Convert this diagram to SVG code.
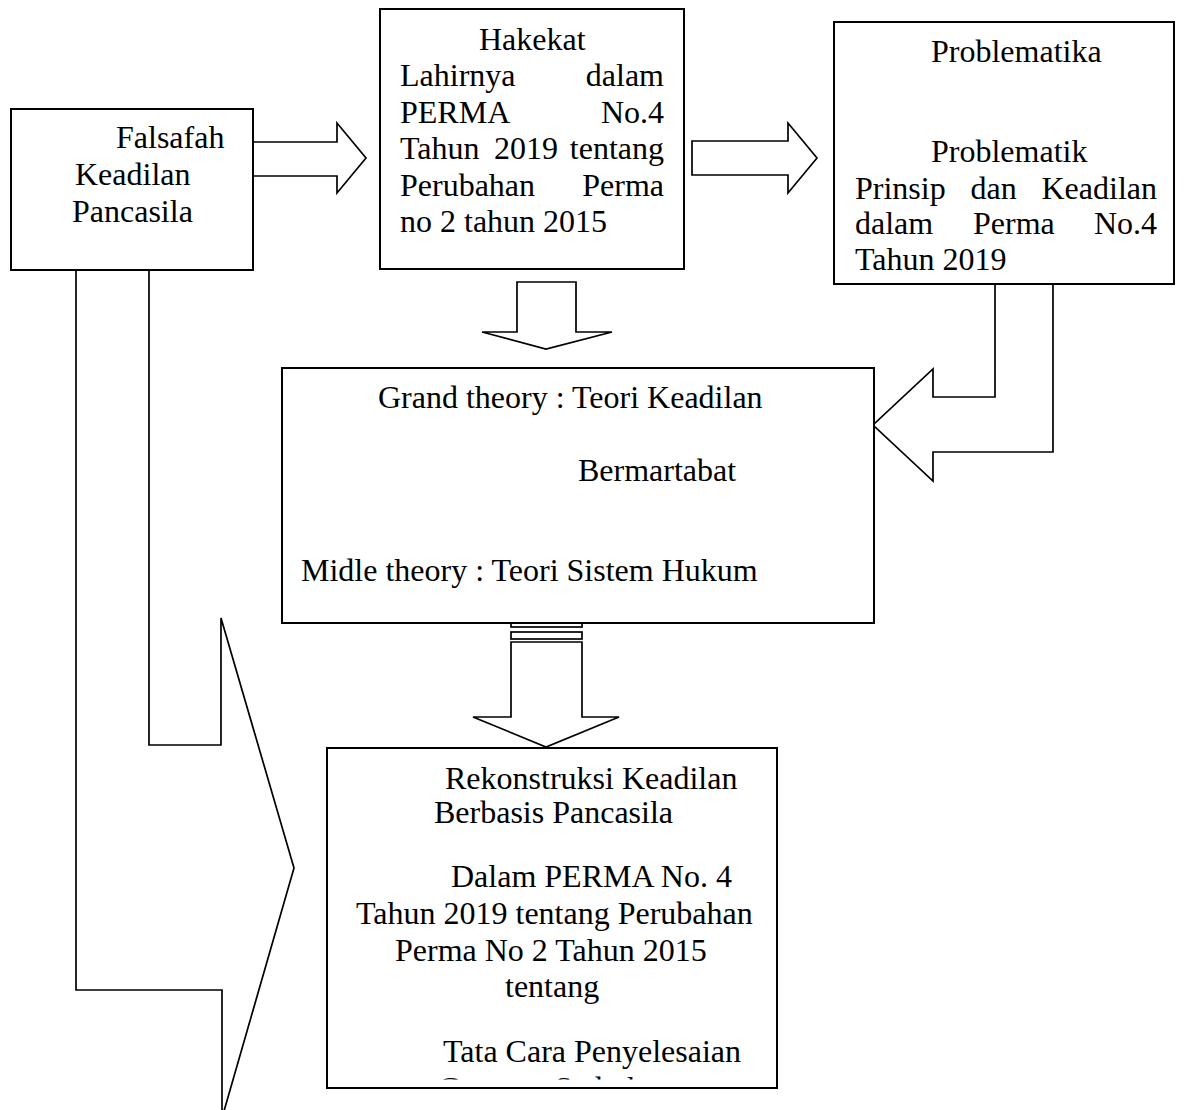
<svg xmlns="http://www.w3.org/2000/svg" width="1192" height="1110" viewBox="0 0 1192 1110">
<style>
.box{fill:#fff;stroke:#000;stroke-width:2}
.arr{fill:#fff;stroke:#000;stroke-width:1.7;stroke-linejoin:miter}
text{font-family:"Liberation Serif","Times New Roman",serif;font-size:32px;fill:#000}
.e{text-anchor:end}
</style>
<defs>
<clipPath id="cut"><rect x="327" y="748" width="450" height="331.5"/></clipPath>
</defs>
<rect width="1192" height="1110" fill="#fff"/>
<g id="connectors">
<polygon class="arr" points="76,270 76,990 222,990 222,1118 294,868 221,618 221,745 149,745 149,270"/>
<polygon class="arr" points="253,142 337,142 337,123 366,158 337,193 337,176 253,176"/>
<polygon class="arr" points="692,141 788,141 788,123 817,158 788,193 788,175 692,175"/>
<polygon class="arr" points="517,282 576,282 576,332 612,332 546,349 482,332 517,332"/>
<polygon class="arr" points="995,284 995,397 933,397 933,369 873,425 933,481 933,452 1053,452 1053,284"/>
<rect class="arr" x="511" y="623" width="71" height="4"/>
<rect class="arr" x="511" y="632" width="71" height="7"/>
<polygon class="arr" points="511,642 582,642 582,717 619,717 546,747 473,717 511,717"/>
</g>
<g id="falsafah">
<rect class="box" x="11" y="109" width="242" height="161"/>
<text x="116" y="148">Falsafah</text>
<text x="75" y="185">Keadilan</text>
<text x="72" y="222">Pancasila</text>
</g>
<g id="hakekat">
<rect class="box" x="380" y="9" width="304" height="260"/>
<text x="479" y="49.5">Hakekat</text>
<text x="400" y="86">Lahirnya</text><text class="e" x="664" y="86">dalam</text>
<text x="400" y="122.5">PERMA</text><text class="e" x="664" y="122.5">No.4</text>
<text x="400" y="159">Tahun</text><text x="494" y="159">2019</text><text class="e" x="664" y="159">tentang</text>
<text x="400" y="195.5">Perubahan</text><text class="e" x="664" y="195.5">Perma</text>
<text x="400" y="232">no 2 tahun 2015</text>
</g>
<g id="problematika">
<rect class="box" x="834" y="22" width="340" height="262"/>
<text x="931" y="62">Problematika</text>
<text x="931" y="162">Problematik</text>
<text x="855" y="198.5">Prinsip</text><text x="970.5" y="198.5">dan</text><text class="e" x="1157" y="198.5">Keadilan</text>
<text x="855" y="234">dalam</text><text x="973" y="234">Perma</text><text class="e" x="1157" y="234">No.4</text>
<text x="855" y="270">Tahun 2019</text>
</g>
<g id="teori">
<rect class="box" x="282" y="368" width="592" height="255"/>
<text x="378" y="408">Grand theory : Teori Keadilan</text>
<text x="578" y="481">Bermartabat</text>
<text x="301" y="581">Midle theory : Teori Sistem Hukum</text>
</g>
<g id="rekonstruksi">
<rect class="box" x="327" y="748" width="450" height="340"/>
<text x="445" y="788.5">Rekonstruksi Keadilan</text>
<text x="434" y="823">Berbasis Pancasila</text>
<text x="451" y="887">Dalam PERMA No. 4</text>
<text x="356" y="924">Tahun 2019 tentang Perubahan</text>
<text x="395" y="960.5">Perma No 2 Tahun 2015</text>
<text x="505" y="997">tentang</text>
<text x="443" y="1061.5">Tata Cara Penyelesaian</text>
<text x="438" y="1098.5" clip-path="url(#cut)">Gugatan Sederhana</text>
</g>
</svg>
